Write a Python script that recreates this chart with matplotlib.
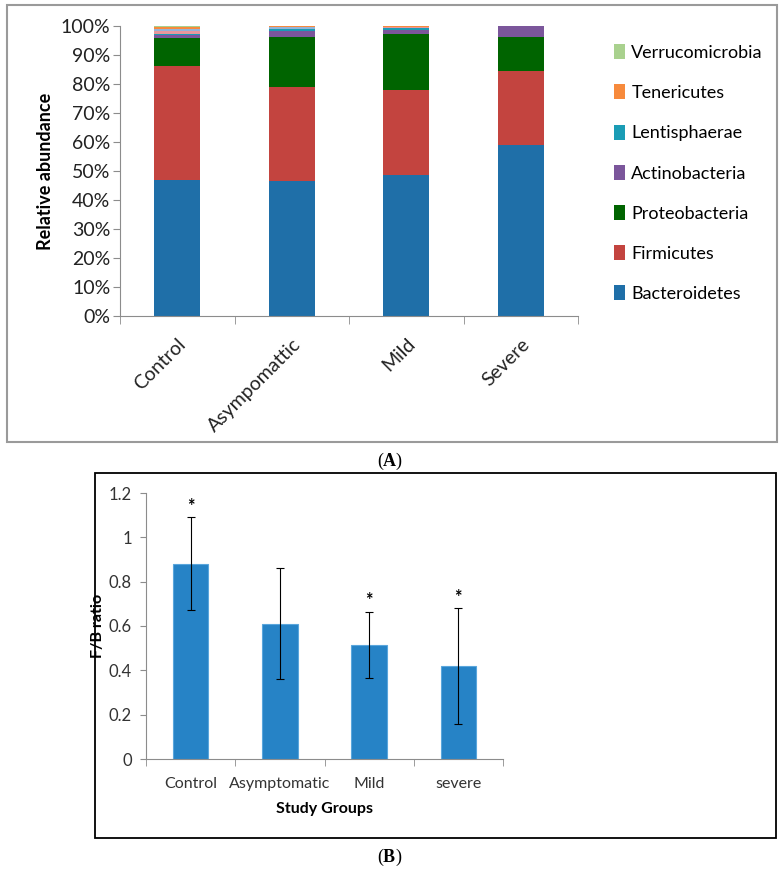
import matplotlib
matplotlib.use("Agg")
import matplotlib.pyplot as plt
from matplotlib.patches import Rectangle, Patch
import numpy as np

plt.rcParams['font.family'] = ['Lato', 'DejaVu Sans']
plt.rcParams['mathtext.fontset'] = 'custom'
plt.rcParams['mathtext.bf'] = 'Liberation Serif:bold'
plt.rcParams['mathtext.rm'] = 'Liberation Serif'

W, H = 780, 873

# panel A data (percent)
groups_a = ['Control', 'Asympomattic', 'Mild', 'Severe']
bacteroidetes = [46.8, 46.4, 48.7, 59.0]
firmicutes = [39.4, 32.5, 29.2, 25.4]
proteobacteria = [9.5, 17.3, 19.3, 11.8]
actinobacteria = [1.1, 2.2, 1.4, 3.8]
lentisphaerae = [0.6, 0.5, 0.7, 0.0]
other_pink = [0.8, 0.1, 0.2, 0.0]
other_blue = [0.8, 0.6, 0.2, 0.0]
tenericutes = [0.6, 0.3, 0.2, 0.0]
verrucomicrobia = [0.4, 0.1, 0.1, 0.0]

# panel B data
groups_b = ['Control', 'Asymptomatic', 'Mild', 'severe']
fb_ratio = [0.88, 0.61, 0.515, 0.42]
fb_err = [0.21, 0.25, 0.15, 0.26]
signif = [True, False, True, True]

fig = plt.figure(figsize=(W / 100, H / 100), dpi=100)


def px_axes(x0, y_top, x1, y_bot):
    return fig.add_axes([x0 / W, 1 - y_bot / H, (x1 - x0) / W, (y_bot - y_top) / H])


# frames
fig.patches.append(Rectangle((7 / W, 1 - 442 / H), 770 / W, 437 / H, transform=fig.transFigure,
                             fill=False, edgecolor='#9a9a9a', lw=1.5))
fig.patches.append(Rectangle((95 / W, 1 - 838 / H), 681 / W, 365 / H, transform=fig.transFigure,
                             fill=False, edgecolor='black', lw=1.3))

# ---- panel A ----
ax = px_axes(120, 26, 578, 316)
series = [
    ('Bacteroidetes', bacteroidetes, '#1f6fa8'),
    ('Firmicutes', firmicutes, '#c3443f'),
    ('Proteobacteria', proteobacteria, '#006400'),
    ('Actinobacteria', actinobacteria, '#7b569b'),
    ('Lentisphaerae', lentisphaerae, '#1a9cb5'),
    (None, other_pink, '#e8979c'),
    (None, other_blue, '#95b3d7'),
    ('Tenericutes', tenericutes, '#f78a3c'),
    ('Verrucomicrobia', verrucomicrobia, '#a9d18e'),
]
x = np.arange(len(groups_a))
bottom = np.zeros(len(groups_a))
handles = []
for name, vals, col in series:
    v = np.array(vals) / 100
    ax.bar(x, v, 0.4, bottom=bottom, color=col, edgecolor='none')
    bottom += v
    if name:
        handles.append(Patch(facecolor=col, label=name))

ax.set_xlim(-0.5, 3.5)
ax.set_ylim(0, 1)
ax.set_yticks(np.arange(0, 1.01, 0.1))
ax.set_yticklabels([f'{int(round(t * 100))}%' for t in np.arange(0, 1.01, 0.1)], fontsize=14,
                   color='#222222')
ax.set_xticks(x)
ax.set_xticklabels(groups_a, rotation=45, ha='right', rotation_mode='anchor', fontsize=14,
                   color='#222222')
ax.set_xticks(np.arange(-0.5, 4, 1), minor=True)
ax.tick_params(axis='x', which='major', length=0, pad=14)
ax.tick_params(axis='x', which='minor', length=6, color='#8c8c8c', direction='out')
ax.tick_params(axis='y', length=5, color='#8c8c8c', direction='out', pad=2)
for s in ['top', 'right']:
    ax.spines[s].set_visible(False)
for s in ['left', 'bottom']:
    ax.spines[s].set_color('#8c8c8c')
ax.set_ylabel('Relative abundance', fontsize=13, fontweight='bold', labelpad=5)

fig.legend(handles=handles[::-1], loc='upper left', bbox_to_anchor=(607 / W, 1 - 37 / H),
           frameon=False, fontsize=13, labelspacing=1.3, handlelength=0.6, handleheight=0.9,
           handletextpad=0.35, borderaxespad=0)

fig.text(390 / W, 1 - 461 / H, r'($\mathbf{A}$)', ha='center', va='center', fontsize=13,
         family='Liberation Serif')

# ---- panel B ----
bx = px_axes(146, 493, 503, 759)
xb = np.arange(len(groups_b))
bx.bar(xb, fb_ratio, 0.4, color='#2683c6', edgecolor='#5aa6dc', lw=0.8,
       yerr=fb_err, error_kw=dict(ecolor='black', elinewidth=0.8, capsize=3, capthick=0.8))
for xi, v, e, s in zip(xb, fb_ratio, fb_err, signif):
    if s:
        bx.text(xi, v + e + 0.01, '*', ha='center', va='bottom', fontsize=13, fontweight='bold')
bx.set_xlim(-0.5, 3.5)
bx.set_ylim(0, 1.2)
bx.set_yticks([0, 0.2, 0.4, 0.6, 0.8, 1.0, 1.2])
bx.set_yticklabels(['0', '0.2', '0.4', '0.6', '0.8', '1', '1.2'], fontsize=12, color='#333333')
bx.set_xticks(xb)
bx.set_xticklabels(groups_b, fontsize=11.5, color='#333333')
bx.set_xticks(np.arange(-0.5, 4, 1), minor=True)
bx.tick_params(axis='x', which='major', length=0, pad=13)
bx.tick_params(axis='x', which='minor', length=5, color='#8c8c8c')
bx.tick_params(axis='y', length=4, color='#8c8c8c', pad=6)
for s in ['top', 'right']:
    bx.spines[s].set_visible(False)
for s in ['left', 'bottom']:
    bx.spines[s].set_color('#8c8c8c')
bx.set_xlabel('Study Groups', fontsize=11.5, fontweight='bold', labelpad=8)
bx.set_ylabel('F/B ratio', fontsize=11.5, fontweight='bold', labelpad=3)

fig.text(390 / W, 1 - 857 / H, r'($\mathbf{B}$)', ha='center', va='center', fontsize=13,
         family='Liberation Serif')

fig.savefig('out.png', dpi=100)
